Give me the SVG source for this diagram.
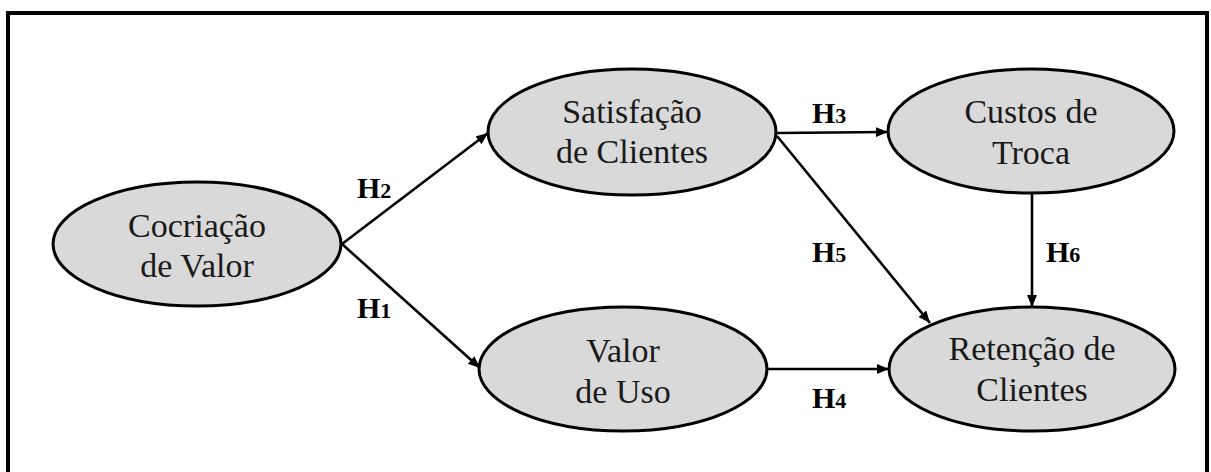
<svg xmlns="http://www.w3.org/2000/svg" width="1211" height="472" viewBox="0 0 1211 472">
<style>
.node ellipse{fill:#d9d9d9;stroke:#000;stroke-width:3}
.edge{stroke:#000;stroke-width:2.6;fill:none}
</style>
<defs>
<marker id="ah" markerUnits="userSpaceOnUse" markerWidth="14" markerHeight="12" refX="12" refY="5" orient="auto">
<path d="M0,0 L12,5 L0,10 Z" fill="#000"/>
</marker>
</defs>
<rect x="0" y="0" width="1211" height="472" fill="#fff"/>
<rect x="8" y="13" width="1199" height="490" fill="none" stroke="#000" stroke-width="4"/>
<g id="connectors" marker-end="url(#ah)">
<line class="edge" x1="342" y1="244" x2="488" y2="133"/>
<line class="edge" x1="342" y1="244" x2="480" y2="368"/>
<line class="edge" x1="777" y1="133" x2="888" y2="132"/>
<line class="edge" x1="777" y1="136" x2="930" y2="323"/>
<line class="edge" x1="1032" y1="193" x2="1032" y2="307"/>
<line class="edge" x1="767" y1="369" x2="889" y2="369"/>
</g>
<g id="labels" font-family="Liberation Serif" font-weight="bold" font-size="30" fill="#000">
<text x="357" y="198">H<tspan font-size="22">2</tspan></text>
<text x="357" y="318">H<tspan font-size="22">1</tspan></text>
<text x="812" y="123">H<tspan font-size="22">3</tspan></text>
<text x="812" y="262">H<tspan font-size="22">5</tspan></text>
<text x="1046" y="262">H<tspan font-size="22">6</tspan></text>
<text x="812" y="408">H<tspan font-size="22">4</tspan></text>
</g>
<g id="cocriacao" class="node" font-family="Liberation Serif" font-size="34" text-anchor="middle" fill="#1a1a1a">
<ellipse cx="197" cy="244" rx="144" ry="62"/>
<text x="197" y="237">Cocriação</text>
<text x="197" y="277">de Valor</text>
</g>
<g id="satisfacao" class="node" font-family="Liberation Serif" font-size="34" text-anchor="middle" fill="#1a1a1a">
<ellipse cx="632" cy="132" rx="144" ry="63"/>
<text x="632" y="123">Satisfação</text>
<text x="632" y="163">de Clientes</text>
</g>
<g id="custos" class="node" font-family="Liberation Serif" font-size="34" text-anchor="middle" fill="#1a1a1a">
<ellipse cx="1031" cy="131" rx="143" ry="62"/>
<text x="1031" y="123">Custos de</text>
<text x="1031" y="164">Troca</text>
</g>
<g id="valoruso" class="node" font-family="Liberation Serif" font-size="34" text-anchor="middle" fill="#1a1a1a">
<ellipse cx="623" cy="369" rx="144" ry="62"/>
<text x="623" y="362">Valor</text>
<text x="623" y="403">de Uso</text>
</g>
<g id="retencao" class="node" font-family="Liberation Serif" font-size="34" text-anchor="middle" fill="#1a1a1a">
<ellipse cx="1032" cy="369" rx="143" ry="62"/>
<text x="1032" y="360">Retenção de</text>
<text x="1032" y="401">Clientes</text>
</g>
</svg>
